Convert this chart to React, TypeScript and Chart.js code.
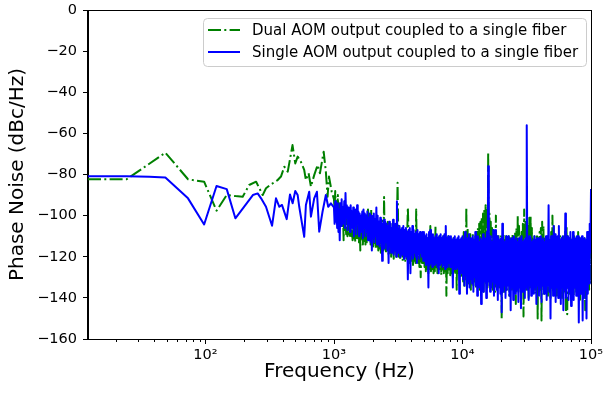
import React, { useEffect, useRef } from "react";
import { Chart, registerables } from "chart.js";

Chart.register(...registerables);

// ---------- DATA ----------
const seriesLabels = [
  "Dual AOM output coupled to a single fiber",
  "Single AOM output coupled to a single fiber",
];

// low-frequency part (Hz / dBc/Hz)
const greenLowF = [12.2, 24.4, 48.8, 73.2, 85.4, 97.7, 122, 146.5, 171, 195, 219, 248, 279, 296, 324, 365, 387, 411, 437, 476, 500, 522, 553, 587, 605, 635, 662, 702, 746, 778, 832, 865, 892, 915, 961];
const greenLowV = [-82.3, -82.3, -69.4, -82.3, -83, -83.5, -97.6, -90, -90.5, -90.8, -85.1, -83.5, -90, -86.7, -84.8, -82.7, -81, -76.2, -78.6, -65.7, -74.6, -71.3, -73.8, -77.8, -82.7, -79.4, -85.9, -80.3, -75.4, -79.4, -68.9, -78.6, -90.8, -81, -88.4];

const blueLowF = [12.2, 24.4, 36.6, 48.8, 73.2, 97.7, 122, 146.5, 171, 234, 255, 271, 296, 330, 354, 376, 394, 429, 455, 477, 500, 522, 537, 587, 605, 642, 662, 702, 737, 768, 815, 865, 902, 946];
const blueLowV = [-80.8, -80.9, -81.1, -81.5, -91.6, -104.3, -85.6, -87.1, -101.3, -90, -89.2, -91.6, -95.7, -104.9, -91.6, -95.7, -94.8, -101.7, -89.7, -94, -88, -90, -95.7, -110.3, -94.8, -88.4, -100.5, -91.6, -88.4, -107.8, -98.1, -90, -95.7, -94];

// 1 kHz .. 10 kHz
const midF = [
  1000, 1012, 1023, 1035, 1047, 1059, 1072, 1084, 1096, 1109,
  1122, 1135, 1148, 1161, 1175, 1189, 1202, 1216, 1230, 1245,
  1259, 1274, 1288, 1303, 1318, 1334, 1349, 1365, 1380, 1396,
  1413, 1429, 1445, 1462, 1479, 1496, 1514, 1531, 1549, 1567,
  1585, 1603, 1622, 1641, 1660, 1679, 1698, 1718, 1738, 1758,
  1778, 1799, 1820, 1841, 1862, 1884, 1905, 1928, 1950, 1972,
  1995, 2018, 2042, 2065, 2089, 2113, 2138, 2163, 2188, 2213,
  2239, 2265, 2291, 2317, 2344, 2371, 2399, 2427, 2455, 2483,
  2512, 2541, 2570, 2600, 2630, 2661, 2692, 2723, 2754, 2786,
  2818, 2851, 2884, 2917, 2951, 2985, 3020, 3055, 3090, 3126,
  3162, 3199, 3236, 3273, 3311, 3350, 3388, 3428, 3467, 3508,
  3548, 3589, 3631, 3673, 3715, 3758, 3802, 3846, 3890, 3936,
  3981, 4027, 4074, 4121, 4169, 4217, 4266, 4315, 4365, 4416,
  4467, 4519, 4571, 4624, 4677, 4732, 4786, 4842, 4898, 4955,
  5012, 5070, 5129, 5188, 5248, 5309, 5370, 5433, 5495, 5559,
  5623, 5689, 5754, 5821, 5888, 5957, 6026, 6095, 6166, 6237,
  6310, 6383, 6457, 6531, 6607, 6683, 6761, 6839, 6918, 6998,
  7079, 7161, 7244, 7328, 7413, 7499, 7586, 7674, 7762, 7852,
  7943, 8035, 8128, 8222, 8318, 8414, 8511, 8610, 8710, 8810,
  8913, 9016, 9120, 9226, 9333, 9441, 9550, 9661, 9772, 9886,
];

const greenMidV = [
  -92, -97, -88, -100, -93, -99, -90, -101, -94, -103,
  -95, -104, -96, -105, -98, -112, -100, -107, -103, -109,
  -100, -110, -101, -109, -100, -111, -102, -110, -101, -112,
  -103, -111, -102, -113, -101, -112, -103, -111, -104, -113,
  -102, -117, -103, -112, -104, -114, -102, -113, -101, -114,
  -100, -113, -99, -97, -101, -112, -100, -114, -97, -113,
  -102, -115, -103, -114, -104, -116, -103, -115, -105, -117,
  -104, -116, -103, -118, -105, -116, -102, -117, -91, -116,
  -104, -118, -105, -117, -103, -119, -106, -118, -104, -120,
  -106, -119, -105, -121, -107, -118, -106, -120, -104, -84,
  -107, -120, -106, -121, -108, -119, -107, -122, -109, -121,
  -108, -122, -107, -121, -109, -96, -108, -123, -110, -121,
  -109, -122, -108, -124, -110, -122, -109, -123, -97, -122,
  -110, -123, -109, -125, -111, -130, -110, -123, -112, -124,
  -111, -125, -110, -127, -112, -126, -111, -128, -110, -126,
  -105, -127, -112, -126, -111, -128, -110, -127, -105, -126,
  -112, -128, -111, -127, -110, -126, -112, -129, -111, -127,
  -110, -128, -112, -127, -111, -139, -112, -128, -110, -127,
  -111, -129, -113, -128, -112, -130, -111, -128, -113, -129,
  -112, -136, -111, -129, -113, -128, -112, -130, -111, -129,
];

const blueMidV = [
  -96, -104, -93, -103, -95, -106, -94, -108, -97, -112,
  -94, -105, -92, -104, -96, -103, -93, -106, -89, -101,
  -95, -107, -96, -104, -97, -108, -95, -103, -98, -106,
  -96, -110, -99, -105, -97, -109, -95, -104, -98, -110,
  -99, -108, -100, -105, -98, -111, -97, -106, -99, -110,
  -100, -108, -98, -112, -101, -107, -99, -113, -100, -117,
  -101, -111, -99, -113, -102, -110, -96, -114, -100, -112,
  -103, -115, -101, -113, -102, -122, -104, -114, -102, -116,
  -103, -113, -104, -117, -105, -123, -103, -115, -104, -118,
  -106, -116, -102, -119, -105, -117, -104, -120, -93, -118,
  -106, -118, -105, -120, -107, -117, -106, -119, -105, -121,
  -107, -118, -106, -120, -108, -131, -107, -119, -106, -128,
  -108, -119, -105, -121, -107, -118, -109, -120, -108, -123,
  -107, -119, -109, -121, -108, -118, -110, -120, -108, -122,
  -108, -122, -110, -124, -109, -123, -111, -135, -108, -124,
  -107, -123, -110, -125, -109, -122, -111, -124, -110, -123,
  -109, -125, -111, -128, -110, -124, -109, -123, -111, -125,
  -110, -124, -109, -126, -105, -124, -111, -125, -110, -123,
  -111, -125, -110, -124, -112, -135, -111, -126, -110, -125,
  -112, -126, -111, -125, -110, -138, -112, -127, -111, -128,
];

// 10 kHz .. 100 kHz
const highF = [
  10000, 10116, 10233, 10351, 10471, 10593, 10715, 10839, 10965, 11092,
  11220, 11350, 11482, 11614, 11749, 11885, 12023, 12162, 12303, 12445,
  12589, 12735, 12882, 13032, 13183, 13335, 13490, 13646, 13804, 13964,
  14125, 14289, 14454, 14622, 14791, 14962, 15136, 15311, 15488, 15668,
  15849, 16032, 16218, 16406, 16596, 16788, 16982, 17179, 17378, 17579,
  17783, 17989, 18197, 18408, 18621, 18836, 19055, 19275, 19498, 19724,
  19953, 20184, 20417, 20654, 20893, 21135, 21380, 21627, 21878, 22131,
  22387, 22646, 22909, 23174, 23442, 23714, 23988, 24266, 24547, 24831,
  25119, 25410, 25704, 26002, 26303, 26607, 26915, 27227, 27542, 27861,
  28184, 28510, 28840, 29174, 29512, 29854, 30200, 30549, 30903, 31261,
  31623, 31989, 32359, 32734, 33113, 33497, 33884, 34277, 34674, 35075,
  35481, 35892, 36308, 36728, 37154, 37584, 38019, 38459, 38905, 39355,
  39811, 40272, 40738, 41210, 41687, 42170, 42658, 43152, 43652, 44157,
  44668, 45186, 45709, 46238, 46774, 47315, 47863, 48417, 48978, 49545,
  50119, 50699, 51286, 51880, 52481, 53088, 53703, 54325, 54954, 55590,
  56234, 56885, 57544, 58210, 58884, 59566, 60256, 60954, 61660, 62373,
  63096, 63826, 64565, 65313, 66069, 66834, 67608, 68391, 69183, 69984,
  70795, 71614, 72444, 73282, 74131, 74989, 75858, 76736, 77625, 78524,
  79433, 80353, 81283, 82224, 83176, 84140, 85114, 86099, 87096, 88105,
  89125, 90157, 91201, 92257, 93325, 94406, 95499, 96605, 97724, 98855,
  100000,
];

const greenHighV = [
  -111, -132, -108, -135, -110, -131, -96, -134, -106, -133,
  -110, -131, -108, -136, -111, -130, -109, -134, -112, -132,
  -110, -135, -108, -131, -106, -133, -104, -136, -103, -132,
  -101, -134, -99, -137, -97, -131, -95, -133, -96, -135,
  -69, -132, -99, -134, -103, -131, -106, -136, -108, -133,
  -110, -137, -100, -134, -111, -132, -109, -135, -112, -133,
  -110, -150, -111, -134, -109, -138, -112, -133, -110, -136,
  -112, -132, -110, -139, -111, -134, -112, -136, -109, -133,
  -111, -135, -108, -143, -106, -134, -100, -137, -105, -133,
  -110, -138, -108, -135, -104, -149, -97, -134, -102, -136,
  -108, -133, -104, -140, -101, -135, -100, -134, -106, -137,
  -111, -132, -110, -138, -112, -134, -109, -150, -111, -133,
  -108, -136, -106, -151, -103, -134, -105, -138, -110, -133,
  -112, -135, -110, -139, -111, -134, -112, -141, -108, -136,
  -100, -134, -105, -138, -110, -135, -112, -139, -111, -133,
  -112, -137, -110, -134, -111, -140, -112, -135, -110, -138,
  -107, -147, -105, -148, -110, -135, -112, -138, -111, -134,
  -112, -136, -111, -139, -110, -135, -112, -137, -111, -134,
  -108, -136, -110, -142, -112, -135, -111, -137, -112, -134,
  -111, -146, -112, -136, -113, -134, -112, -137, -113, -133,
  -115,
];

const blueHighV = [
  -110, -131, -112, -134, -108, -129, -113, -138, -111, -132,
  -109, -135, -111, -131, -113, -133, -110, -137, -112, -130,
  -108, -134, -112, -139, -110, -131, -113, -135, -111, -143,
  -112, -133, -109, -137, -111, -132, -112, -140, -108, -134,
  -76, -132, -112, -137, -110, -135, -113, -132, -107, -139,
  -112, -133, -107, -136, -110, -141, -111, -134, -112, -138,
  -111, -147, -104, -137, -112, -134, -113, -140, -110, -136,
  -113, -134, -110, -139, -112, -146, -111, -135, -113, -141,
  -110, -134, -112, -138, -111, -136, -113, -142, -111, -135,
  -112, -145, -110, -137, -113, -133, -112, -140, -111, -135,
  -56, -136, -112, -141, -110, -134, -111, -139, -113, -133,
  -112, -138, -110, -135, -112, -143, -111, -134, -113, -139,
  -111, -135, -110, -142, -112, -134, -111, -138, -113, -136,
  -110, -141, -112, -134, -95, -137, -112, -150, -110, -135,
  -110, -139, -105, -136, -109, -142, -112, -135, -110, -140,
  -105, -137, -112, -143, -111, -135, -110, -146, -112, -136,
  -99, -140, -112, -135, -110, -141, -111, -137, -108, -144,
  -112, -136, -108, -141, -111, -135, -112, -139, -110, -137,
  -110, -152, -112, -138, -111, -135, -110, -151, -112, -140,
  -111, -136, -112, -150, -108, -138, -108, -133, -104, -118,
  -87,
];

const xMin = 12.2;
const xMax = 100000;
const xDecades = [10, 100, 1000, 10000, 100000];
const xMultipliers = [1, 2, 3, 4, 5, 6, 7, 8, 9];
const xMajorLabels: Record<number, string> = { 100: "10²", 1000: "10³", 10000: "10⁴", 100000: "10⁵" };
const yTicks = [0, -20, -40, -60, -80, -100, -120, -140, -160];

const FONT = "DejaVu Sans";

export default function App() {
  const ref = useRef<HTMLCanvasElement>(null);

  useEffect(() => {
    if (!ref.current) return;
    const pts = (f: number[], v: number[]) => f.map((x, i) => ({ x, y: v[i] }));
    const greenData = [...pts(greenLowF, greenLowV), ...pts(midF, greenMidV), ...pts(highF, greenHighV)];
    const blueData = [...pts(blueLowF, blueLowV), ...pts(midF, blueMidV), ...pts(highF, blueHighV)];

    const greenDash = [13, 3.3, 2, 3.3];

    const framePlugin = {
      id: "frame",
      afterDraw(chart: any) {
        const { ctx, chartArea } = chart;
        const xs = chart.scales.x;
        ctx.save();
        ctx.strokeStyle = "#000";
        ctx.lineWidth = 1;
        ctx.setLineDash([]);
        ctx.strokeRect(Math.round(chartArea.left) - 0.5, Math.round(chartArea.top) + 0.5,
          Math.round(chartArea.right - chartArea.left) + 1, Math.round(chartArea.bottom - chartArea.top));
        // x ticks (major + minor)
        ctx.beginPath();
        for (const t of xs.ticks) {
          const px = Math.round(xs.getPixelForValue(t.value)) + 0.5;
          const major = xMajorLabels[t.value] !== undefined;
          const len = major ? 5 : 3;
          ctx.moveTo(px, chartArea.bottom);
          ctx.lineTo(px, chartArea.bottom + len);
        }
        ctx.stroke();

        // legend
        const bx = 203.5, by = 18.5, bw = 383, bh = 48;
        ctx.beginPath();
        ctx.roundRect(bx, by, bw, bh, 4);
        ctx.fillStyle = "rgba(255,255,255,0.8)";
        ctx.fill();
        ctx.strokeStyle = "#cccccc";
        ctx.stroke();

        const ds = chart.data.datasets;
        const rows = [ds[0], ds[1]];
        const rowY = [30, 52];
        rows.forEach((d: any, i: number) => {
          ctx.beginPath();
          ctx.strokeStyle = d.borderColor;
          ctx.lineWidth = 2;
          ctx.setLineDash(d.borderDash || []);
          ctx.moveTo(208, rowY[i]);
          ctx.lineTo(240, rowY[i]);
          ctx.stroke();
          ctx.setLineDash([]);
          ctx.fillStyle = "#000";
          ctx.font = `15px "${FONT}"`;
          ctx.textBaseline = "middle";
          ctx.textAlign = "left";
          ctx.fillText(d.label, 252, rowY[i] + 1);
        });
        ctx.restore();
      },
    };

    const chart = new Chart(ref.current, {
      type: "line",
      data: {
        datasets: [
          {
            label: seriesLabels[0],
            data: greenData,
            borderColor: "#008000",
            borderWidth: 2,
            borderDash: greenDash,
            borderJoinStyle: "round",
            pointRadius: 0,
            tension: 0,
            fill: false,
            order: 1,
          },
          {
            label: seriesLabels[1],
            data: blueData,
            borderColor: "#0000ff",
            borderWidth: 2,
            borderJoinStyle: "round",
            pointRadius: 0,
            tension: 0,
            fill: false,
            order: 0,
          },
        ],
      },
      options: {
        responsive: false,
        animation: false,
        devicePixelRatio: 1,
        layout: { padding: { left: 0, right: 15, top: 10, bottom: 0 } },
        plugins: { legend: { display: false }, tooltip: { enabled: false } },
        scales: {
          x: {
            type: "logarithmic",
            min: xMin,
            max: xMax,
            afterBuildTicks: (scale: any) => {
              const t: any[] = [];
              for (const d of xDecades) {
                for (const m of xMultipliers) {
                  const v = m * d;
                  if (v >= xMin && v <= xMax) t.push({ value: v });
                }
              }
              scale.ticks = t;
            },
            afterFit: (scale: any) => {
              scale.height = 55;
              scale.paddingLeft = 0;
              scale.paddingRight = 0;
            },
            ticks: {
              autoSkip: false,
              maxRotation: 0,
              minRotation: 0,
              padding: 3,
              color: "#000",
              font: { family: FONT, size: 14.5 },
              callback: (v: any) => xMajorLabels[Number(v)] ?? "",
            },
            grid: {
              drawOnChartArea: false,
              drawTicks: true,
              tickLength: 5,
              tickColor: "rgba(0,0,0,0)",
            },
            border: { display: true, color: "#000", width: 1 },
            title: {
              display: true,
              text: "Frequency (Hz)",
              color: "#000",
              font: { family: FONT, size: 20 },
              padding: { top: 0, bottom: 10 },
            },
          },
          y: {
            type: "linear",
            min: -160,
            max: 0,
            afterBuildTicks: (scale: any) => {
              scale.ticks = yTicks.map((v) => ({ value: v }));
            },
            afterFit: (scale: any) => {
              scale.width = 88;
              scale.paddingTop = 0;
              scale.paddingBottom = 0;
            },
            ticks: {
              padding: 6,
              color: "#000",
              font: { family: FONT, size: 14.5 },
              callback: (v: any) => (Number(v) < 0 ? "\u2212" + Math.abs(Number(v)) : String(v)),
            },
            grid: {
              drawOnChartArea: false,
              drawTicks: true,
              tickLength: 5,
              tickColor: "#000",
              tickWidth: 1,
            },
            border: { display: true, color: "#000", width: 1 },
            title: {
              display: true,
              text: "Phase Noise (dBc/Hz)",
              color: "#000",
              font: { family: FONT, size: 20 },
              padding: { top: 6, bottom: 0 },
            },
          },
        },
      },
      plugins: [framePlugin],
    } as any);

    return () => chart.destroy();
  }, []);

  return (
    <canvas
      ref={ref}
      width={606}
      height={394}
      style={{ position: "absolute", left: 0, top: 0, width: 606, height: 394 }}
    />
  );
}
